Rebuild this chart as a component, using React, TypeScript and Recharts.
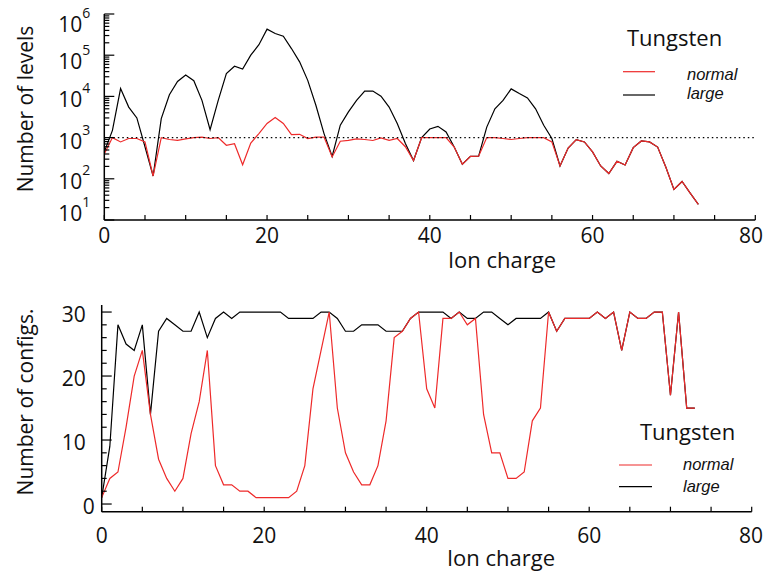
import React from 'react';
import { LineChart, Line, XAxis, YAxis, ReferenceLine, Legend, Label } from 'recharts';

const FONT = "'Open Sans', 'Noto Sans', sans-serif";
const RED = '#ee2a2a';

// ion charge 0..73
const ionCharge = [
  0, 1, 2, 3, 4, 5, 6, 7, 8, 9, 10, 11, 12, 13, 14, 15, 16, 17, 18, 19, 20, 21, 22, 23, 24,
  25, 26, 27, 28, 29, 30, 31, 32, 33, 34, 35, 36, 37, 38, 39, 40, 41, 42, 43, 44, 45, 46, 47, 48, 49,
  50, 51, 52, 53, 54, 55, 56, 57, 58, 59, 60, 61, 62, 63, 64, 65, 66, 67, 68, 69, 70, 71, 72, 73,
];

// number of levels (log axis)
const levelsNormal = [
  400, 1000, 785, 950, 950, 785, 117, 1000, 900, 860, 930, 1000, 1030, 950, 1000, 650, 710, 220, 740, 1250,
  2200, 3060, 2200, 1180, 1200, 950, 1030, 1030, 340, 815, 860, 930, 900, 850, 980, 860, 950, 600, 277, 1000,
  1000, 1000, 1000, 590, 225, 350, 355, 1000, 1000, 950, 900, 950, 1000, 1000, 1000, 785, 205, 560, 890, 785,
  450, 205, 134, 266, 217, 570, 830, 785, 590, 194, 55, 86, 45, 24,
];
const levelsLarge = [
  450, 1500, 15500, 5500, 3000, 600, 117, 2900, 11000, 23000, 33000, 24000, 8000, 1560, 8000, 36000, 54000, 46000, 100000, 180000,
  430000, 335000, 290000, 145000, 69000, 24500, 6100, 1250, 350, 2000, 4200, 8000, 13500, 13500, 10100, 5500, 2200, 720, 277, 1000,
  1620, 1880, 1370, 590, 225, 350, 355, 1800, 5000, 8000, 15200, 11700, 9200, 5000, 2000, 950, 205, 560, 890, 785,
  450, 205, 134, 266, 217, 570, 830, 785, 590, 194, 55, 86, 45, 24,
];

// number of configurations
const configsNormal = [
  1, 4, 5, 12, 20, 24, 14, 7, 4, 2, 4, 11, 16, 24, 6, 3, 3, 2, 2, 1,
  1, 1, 1, 1, 2, 6, 18, 24, 30, 15, 8, 5, 3, 3, 6, 13, 26, 27, 29, 30,
  18, 15, 29, 29, 30, 28, 29, 14, 8, 8, 4, 4, 5, 13, 15, 30, 27, 29, 29, 29,
  29, 30, 29, 30, 24, 30, 29, 29, 30, 30, 17, 30, 15, 15,
];
const configsLarge = [
  1, 9, 28, 25, 24, 28, 14, 27, 29, 28, 27, 27, 30, 26, 29, 30, 29, 30, 30, 30,
  30, 30, 30, 29, 29, 29, 29, 30, 30, 29, 27, 27, 28, 28, 28, 27, 27, 27, 29, 30,
  30, 30, 30, 29, 30, 29, 29, 30, 30, 29, 28, 29, 29, 29, 29, 30, 27, 29, 29, 29,
  29, 30, 29, 30, 24, 30, 29, 29, 30, 30, 17, 30, 15, 15,
];

const chargeTicks = [0, 5, 10, 15, 20, 25, 30, 35, 40, 45, 50, 55, 60, 65, 70, 75, 80];
const chargeLabels = [0, 20, 40, 60, 80];
const levelDecades = [10, 100, 1000, 10000, 100000, 1000000];
const levelMinor = [2, 3, 4, 5, 6, 7, 8, 9];
const configTicks = [0, 2, 4, 6, 8, 10, 12, 14, 16, 18, 20, 22, 24, 26, 28, 30];
const configLabels = [0, 10, 20, 30];
const legendTitle = 'Tungsten';
const legendSeries = [
  { name: 'normal', color: RED },
  { name: 'large', color: '#000' },
];

const levelTicks = levelDecades.flatMap((d) => (d < 1e6 ? [d, ...levelMinor.map((m) => m * d)] : [d]));

const levelData = ionCharge.map((q, i) => ({ q, normal: levelsNormal[i], large: levelsLarge[i] }));
const configData = ionCharge.map((q, i) => ({ q, normal: configsNormal[i], large: configsLarge[i] }));

// label baseline shift per decade (IDL nudges the end labels inward)
const decadeLabelShift: Record<number, number> = { 1: 1, 2: 10, 3: 11, 4: 11, 5: 14, 6: 18 };

function ChargeTick({ x, y, payload, side, labelDy }: any) {
  const v = payload.value;
  const dir = side === 'top' ? 1 : -1;
  return (
    <g>
      <line x1={x} x2={x} y1={y} y2={y + dir * 5} stroke="#000" strokeWidth={1.2} />
      {side === 'bottom' && chargeLabels.includes(v) && (
        <text x={Math.min(x, 751)} y={y + labelDy} textAnchor="middle" fontSize={21} fontFamily={FONT} fill="#111">
          {v}
        </text>
      )}
    </g>
  );
}

function LevelTick({ x, y, payload, side }: any) {
  const v = payload.value;
  const lg = Math.log10(v);
  const exp = Math.round(lg);
  const major = Math.abs(lg - exp) < 1e-6;
  const dir = side === 'left' ? 1 : -1;
  const len = major ? 10 : 5;
  const base = y + (decadeLabelShift[exp] ?? 11);
  return (
    <g>
      <line x1={x} x2={x + dir * len} y1={y} y2={y} stroke="#000" strokeWidth={1.2} />
      {side === 'left' && major && (
        <g fontFamily={FONT} fill="#111">
          <text x={x - 22} y={base} textAnchor="end" fontSize={21}>10</text>
          <text x={x - 22} y={base - 14} fontSize={14}>{exp}</text>
        </g>
      )}
    </g>
  );
}

function ConfigTick({ x, y, payload, side }: any) {
  const v = payload.value;
  const major = configLabels.includes(v);
  const dir = side === 'left' ? 1 : -1;
  const len = major ? 10 : 5;
  return (
    <g>
      <line x1={x} x2={x + dir * len} y1={y} y2={y} stroke="#000" strokeWidth={1.2} />
      {side === 'left' && major && (
        <text x={v === 0 ? x - 7 : x - 16} y={y + 10} textAnchor="end" fontSize={21} fontFamily={FONT} fill="#111">
          {v}
        </text>
      )}
    </g>
  );
}

function yTitle(text: string, cx: number, cy: number) {
  return () => (
    <text x={cx} y={cy} transform={`rotate(-90 ${cx} ${cy})`} textAnchor="middle" fontSize={21} fontFamily={FONT} fill="#111">
      {text}
    </text>
  );
}

function xTitle(text: string, cx: number, cy: number) {
  return () => (
    <text x={cx} y={cy} textAnchor="middle" fontSize={22} fontFamily={FONT} fill="#111">
      {text}
    </text>
  );
}

function LegendBox({ t, lines, labels }: any) {
  return (
    <svg width={150} height={90} style={{ display: 'block' }}>
      <text x={t[0]} y={t[1]} fontSize={22} fontFamily={FONT} fill="#111">{legendTitle}</text>
      {legendSeries.map((s, i) => (
        <g key={s.name}>
          <line x1={lines[0]} x2={lines[1]} y1={lines[2 + i]} y2={lines[2 + i]} stroke={s.color} strokeWidth={1.2} />
          <text x={labels[0]} y={labels[1 + i]} fontSize={16.5} fontStyle="italic" fontFamily="'Liberation Sans', Arial, sans-serif" fill="#111">
            {s.name}
          </text>
        </g>
      ))}
    </svg>
  );
}

const axisLine = { stroke: '#000', strokeWidth: 1.5 };

export default function App() {
  return (
    <div style={{ position: 'absolute', left: 0, top: 0, width: 764, height: 574, background: '#fff' }}>
      <div style={{ position: 'absolute', left: 0, top: 0 }}>
        <LineChart width={764} height={290} data={levelData} margin={{ top: 14, right: 8.7, left: 0, bottom: 0 }}>
          <XAxis dataKey="q" type="number" domain={[0, 80]} allowDataOverflow ticks={chargeTicks} interval={0}
            height={70} tickSize={0} tickMargin={0} axisLine={axisLine}
            tick={(p: any) => <ChargeTick {...p} side="bottom" labelDy={23} />}>
            <Label content={xTitle('Ion  charge', 502, 268)} />
          </XAxis>
          <XAxis xAxisId="t" orientation="top" dataKey="q" type="number" domain={[0, 80]} allowDataOverflow ticks={chargeTicks}
            interval={0} height={0} tickSize={0} tickMargin={0} axisLine={axisLine}
            tick={(p: any) => <ChargeTick {...p} side="top" />} />
          <YAxis type="number" scale="log" domain={[10, 1000000]} allowDataOverflow ticks={levelTicks} interval={0}
            width={104.3} tickSize={0} tickMargin={0} axisLine={axisLine}
            tick={(p: any) => <LevelTick {...p} side="left" />}>
            <Label content={yTitle('Number of levels', 32.5, 109)} />
          </YAxis>
          <YAxis yAxisId="r" orientation="right" type="number" scale="log" domain={[10, 1000000]} allowDataOverflow
            ticks={levelTicks} interval={0} width={0} tickSize={0} tickMargin={0} axisLine={axisLine}
            tick={(p: any) => <LevelTick {...p} side="right" />} />
          <Line type="linear" dataKey="large" stroke="#000" strokeWidth={1.2} dot={false} isAnimationActive={false} />
          <Line type="linear" dataKey="normal" stroke={RED} strokeWidth={1.2} dot={false} isAnimationActive={false} />
          <ReferenceLine y={1000} stroke="#000" strokeWidth={1.2} strokeDasharray="1.5 3" />
          <Legend layout="horizontal" verticalAlign="middle" align="center"
            wrapperStyle={{ position: 'absolute', left: 610, top: 20, width: 150, height: 90 }}
            content={() => <LegendBox t={[17, 26]} lines={[13, 45, 51.7, 75]} labels={[77, 60, 79]} />} />
        </LineChart>
      </div>
      <div style={{ position: 'absolute', left: 0, top: 290 }}>
        <LineChart width={764} height={284} data={configData} margin={{ top: 15, right: 12.3, left: 0, bottom: 0 }}>
          <XAxis dataKey="q" type="number" domain={[0, 80]} allowDataOverflow ticks={chargeTicks} interval={0}
            height={62.3} tickSize={0} tickMargin={0} axisLine={axisLine}
            tick={(p: any) => <ChargeTick {...p} side="bottom" labelDy={31} />}>
            <Label content={xTitle('Ion  charge', 501, 276)} />
          </XAxis>
          <XAxis xAxisId="t" orientation="top" dataKey="q" type="number" domain={[0, 80]} allowDataOverflow ticks={chargeTicks}
            interval={0} height={0} tickSize={0} tickMargin={0} axisLine={axisLine}
            tick={(p: any) => <ChargeTick {...p} side="top" />} />
          <YAxis type="number" domain={[-1.2, 31.1]} allowDataOverflow ticks={configTicks} interval={0}
            width={101.7} tickSize={0} tickMargin={0} axisLine={axisLine}
            tick={(p: any) => <ConfigTick {...p} side="left" />}>
            <Label content={yTitle('Number of  configs.', 32.5, 112)} />
          </YAxis>
          <YAxis yAxisId="r" orientation="right" type="number" domain={[-1.2, 31.1]} allowDataOverflow
            ticks={configTicks} interval={0} width={0} tickSize={0} tickMargin={0} axisLine={axisLine}
            tick={(p: any) => <ConfigTick {...p} side="right" />} />
          <Line type="linear" dataKey="large" stroke="#000" strokeWidth={1.2} dot={false} isAnimationActive={false} />
          <Line type="linear" dataKey="normal" stroke={RED} strokeWidth={1.2} dot={false} isAnimationActive={false} />
          <Legend layout="horizontal" verticalAlign="middle" align="center"
            wrapperStyle={{ position: 'absolute', left: 610, top: 125, width: 150, height: 90 }}
            content={() => <LegendBox t={[30, 25]} lines={[9, 42, 50, 71.7]} labels={[73, 55, 76.7]} />} />
        </LineChart>
      </div>
    </div>
  );
}
